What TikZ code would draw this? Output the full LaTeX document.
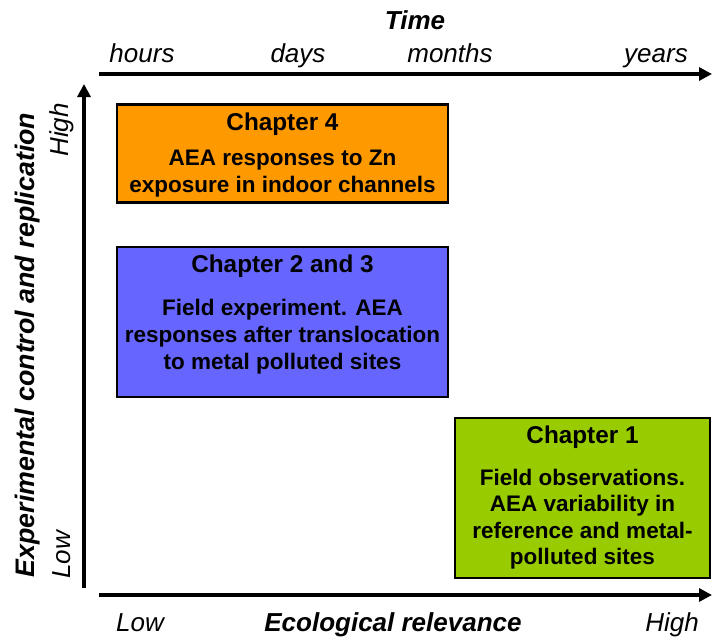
\documentclass[tikz,border=0pt]{standalone}
\usepackage{fontspec}
\setmainfont{Liberation Sans}
\usetikzlibrary{arrows.meta}
\definecolor{chapfour}{HTML}{FF9900}
\definecolor{chaptwo}{HTML}{6666FF}
\definecolor{chapone}{HTML}{99CC00}
\begin{document}
\begin{tikzpicture}[x=1pt,y=-1pt,
  axis/.style={line width=3.2pt,-{Triangle[length=13pt,width=13pt]}},
  chapbox/.style={draw=black,line width=2.6pt,inner sep=0pt},
  axislabel/.style={font=\fontsize{26}{30}\selectfont\itshape,inner sep=0pt},
  axistitle/.style={font=\fontsize{26}{30}\selectfont\bfseries\itshape,inner sep=0pt},
  chaptitle/.style={font=\fontsize{24.3}{28}\selectfont\bfseries,inner sep=0pt},
  chapbody/.style={font=\fontsize{22.5}{27}\selectfont\bfseries,align=center,inner sep=0pt}]
\useasboundingbox (0,0) rectangle (712,637);

% axes
\coordinate (tstart) at (99,74);
\coordinate (tend) at (712,74);
\coordinate (ystart) at (84,588);
\coordinate (yend) at (84,84);
\coordinate (xstart) at (99,595);
\coordinate (xend) at (712,595);
\draw[axis] (tstart) -- (tend);
\draw[axis] (ystart) -- (yend);
\draw[axis] (xstart) -- (xend);

% time scale
\node[axistitle,anchor=base] (time) at (415,29.5) {Time};
\node[axislabel,anchor=base] (hours) at (142,62) {hours};
\node[axislabel,anchor=base] (days) at (298,62) {days};
\node[axislabel,anchor=base] (months) at (450,62) {months};
\node[axislabel,anchor=base] (years) at (656,62) {years};

% ecological relevance scale
\node[axislabel,anchor=base] (xlow) at (140,631) {Low};
\node[axistitle,anchor=base] (eco) at (393,631) {Ecological relevance};
\node[axislabel,anchor=base] (xhigh) at (672,631) {High};

% experimental control scale
\node[axistitle,rotate=90,font=\fontsize{26.8}{30}\selectfont\bfseries\itshape] (ctrl) at (28,345) {Experimental control and replication};
\node[axislabel,rotate=90] (yhigh) at (62,130) {High};
\node[axislabel,rotate=90] (ylow) at (62,555) {Low};

% chapters
\node[chapbox,fill=chapfour,minimum width=331pt,minimum height=98pt] (ch4) at (282.5,153.5) {};
\node[chaptitle] (ch4t) at (282.5,124) {Chapter 4};
\node[chapbody] (ch4b) at (282.5,173.5) {AEA responses to Zn\\exposure in indoor channels};

\node[chapbox,fill=chaptwo,minimum width=331pt,minimum height=150pt] (ch2) at (282.5,322) {};
\node[chaptitle] (ch2t) at (282.5,266) {Chapter 2 and 3};
\node[chapbody] (ch2b) at (282.5,337) {Field experiment. AEA\\responses after translocation\\to metal polluted sites};

\node[chapbox,fill=chapone,minimum width=255pt,minimum height=160pt] (ch1) at (582.5,498) {};
\node[chaptitle] (ch1t) at (582.5,437) {Chapter 1};
\node[chapbody,font=\fontsize{22.5}{26.5}\selectfont\bfseries] (ch1b) at (582.5,519) {Field observations.\\AEA variability in\\reference and metal-\\polluted sites};
\end{tikzpicture}
\end{document}
